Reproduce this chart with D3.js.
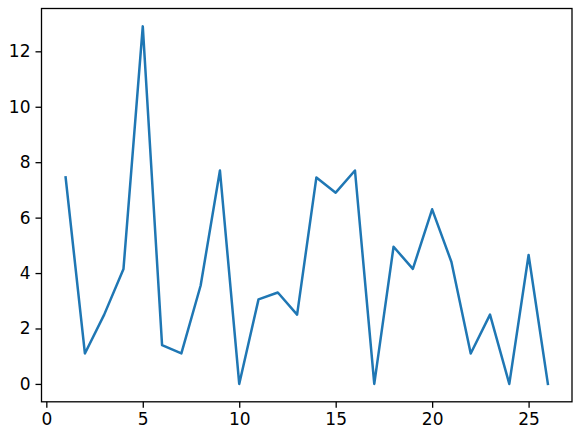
<!DOCTYPE html>
<html><head><meta charset="utf-8">
<script src="https://cdn.jsdelivr.net/npm/d3@7"></script>
<style>body{margin:0;background:#fff}svg{display:block}</style>
</head><body>
<svg id="c" width="580" height="433"></svg>
<script>
const xValues = [1,2,3,4,5,6,7,8,9,10,11,12,13,14,15,16,17,18,19,20,21,22,23,24,25,26];
const yValues = [7.45,1.1,2.5,4.15,12.9,1.4,1.1,3.55,7.7,0,3.05,3.3,2.5,7.45,6.9,7.7,0,4.95,4.15,6.3,4.4,1.1,2.5,0,4.65,0];
const xTicks = [0,5,10,15,20,25];
const yTicks = [0,2,4,6,8,10,12];

const svg = d3.select("#c");
const L = 41.5, R = 572, T = 8.5, B = 401.8;
const xMin = d3.min(xValues), xMax = d3.max(xValues);
const yMin = d3.min(yValues), yMax = d3.max(yValues);
const xm = (xMax - xMin) * 0.05, ym = (yMax - yMin) * 0.05;
const x = d3.scaleLinear().domain([xMin - xm, xMax + xm]).range([L, R]);
const y = d3.scaleLinear().domain([yMin - ym, yMax + ym]).range([B, T]);

const line = d3.line().x((d,i)=>x(xValues[i])).y(d=>y(d));
svg.append("path").datum(yValues).attr("d", line)
  .attr("fill","none").attr("stroke","#1f77b4").attr("stroke-width",2.5)
  .attr("stroke-linejoin","round").attr("stroke-linecap","square");

const font = "DejaVu Sans, sans-serif";
const xAxis = svg.append("g").attr("transform",`translate(0,${B})`)
  .call(d3.axisBottom(x).tickValues(xTicks).tickFormat(d3.format("d")).tickSize(6).tickPadding(5));
const yAxis = svg.append("g").attr("transform",`translate(${L},0)`)
  .call(d3.axisLeft(y).tickValues(yTicks).tickFormat(d3.format("d")).tickSize(6).tickPadding(5));
[xAxis,yAxis].forEach(g=>{
  g.select(".domain").remove();
  g.selectAll("line").attr("stroke","#000").attr("stroke-width",1.3);
  g.selectAll("text").attr("font-family",font).attr("font-size",17).attr("fill","#000");
});
svg.append("rect").attr("x",L).attr("y",T).attr("width",R-L).attr("height",B-T)
  .attr("fill","none").attr("stroke","#000").attr("stroke-width",1.3);
</script>
</body></html>
